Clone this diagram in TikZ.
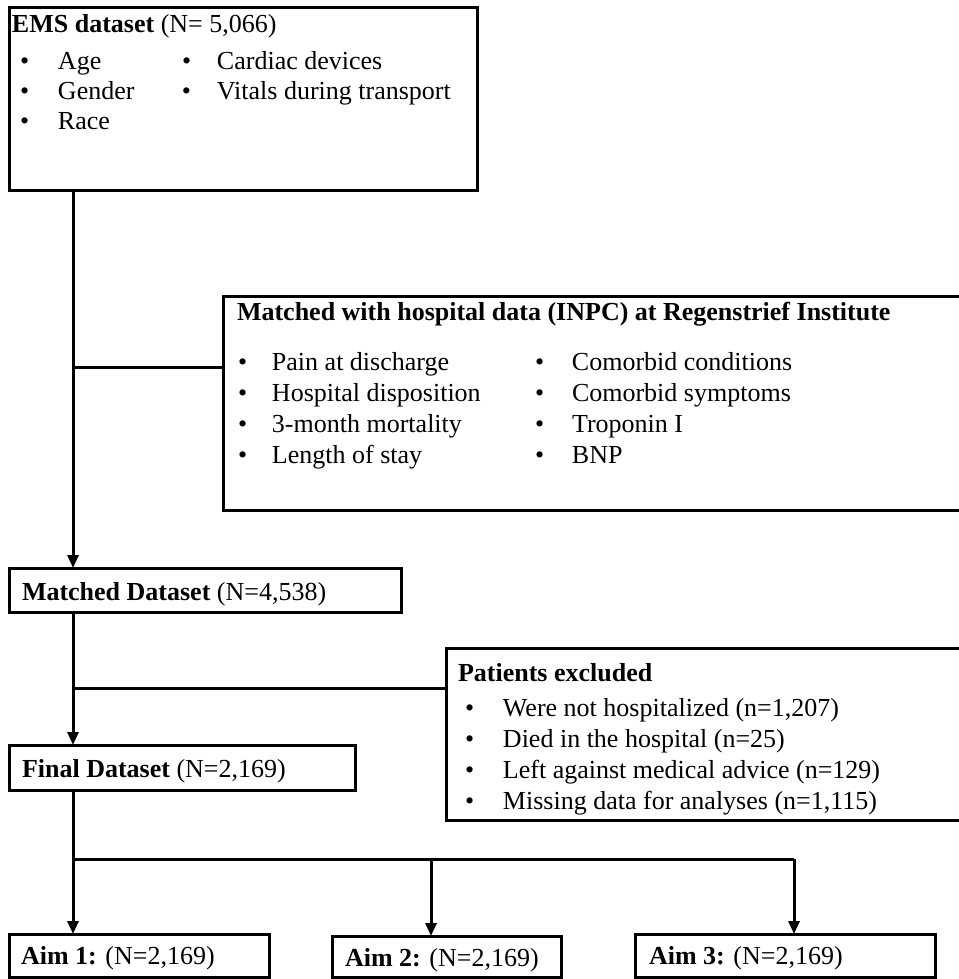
\documentclass[tikz,border=0pt]{standalone}
\usepackage{fontspec}
\setmainfont{Liberation Serif}
\usetikzlibrary{arrows.meta}
\setlength{\tabcolsep}{0pt}
\begin{document}
\begin{tikzpicture}[x=1pt,y=-1pt,
  box/.style={draw,line width=3pt,inner sep=0pt,outer sep=0pt,anchor=north west},
  txt/.style={anchor=base west,inner sep=0pt,outer sep=0pt,font=\fontsize{26}{30}\selectfont},
  conn/.style={line width=3pt},
  arr/.style={conn,-{Triangle[length=13pt,width=11pt]}}]
\useasboundingbox (0,0) rectangle (958,979);
% boxes
\node[box,minimum width=468pt,minimum height=182pt] (ems) at (9,8) {};
\node[box,minimum width=745pt,minimum height=214pt] (hosp) at (223,296) {};
\node[box,minimum width=392pt,minimum height=44pt] (matched) at (9,568) {};
\node[box,minimum width=520pt,minimum height=172pt] (excl) at (446,648) {};
\node[box,minimum width=346pt,minimum height=45pt] (final) at (9,745) {};
\node[box,minimum width=260pt,minimum height=43pt] (aim1) at (9,934) {};
\node[box,minimum width=229pt,minimum height=41pt] (aim2) at (332,936) {};
\node[box,minimum width=300pt,minimum height=43pt] (aim3) at (635,934) {};
% texts
\node[txt] (emsT) at (12,33) {\textbf{EMS dataset} (N= 5,066)};
\node[txt] (emsL) at (20,70) {\begin{tabular}[t]{@{}p{38pt}p{124pt}p{35pt}l@{}}
• & Age & • & Cardiac devices\\
• & Gender & • & Vitals during transport\\
• & Race & & \end{tabular}};
\node[txt] (hospT) at (237,320) {\textbf{Matched with hospital data (INPC) at Regenstrief Institute}};
\node[txt,font=\fontsize{26}{31}\selectfont] (hospL) at (238,370) {\begin{tabular}[t]{@{}p{34pt}p{263pt}p{37pt}l@{}}
• & Pain at discharge & • & Comorbid conditions\\
• & Hospital disposition & • & Comorbid symptoms\\
• & 3-month mortality & • & Troponin I\\
• & Length of stay & • & BNP\end{tabular}};
\node[txt] (matchedT) at (22,600) {\textbf{Matched Dataset} (N=4,538)};
\node[txt] (exclT) at (458,681) {\textbf{Patients excluded}};
\node[txt,font=\fontsize{26}{31}\selectfont] (exclL) at (465,716) {\begin{tabular}[t]{@{}p{38pt}l@{}}
• & Were not hospitalized (n=1,207)\\
• & Died in the hospital (n=25)\\
• & Left against medical advice (n=129)\\
• & Missing data for analyses (n=1,115)\end{tabular}};
\node[txt] (finalT) at (22,777) {\textbf{Final Dataset} (N=2,169)};
\node[txt] (aim1T) at (21,964) {\textbf{Aim 1:} (N=2,169)};
\node[txt] (aim2T) at (345,966) {\textbf{Aim 2:} (N=2,169)};
\node[txt] (aim3T) at (649,964) {\textbf{Aim 3:} (N=2,169)};
% connectors
\coordinate (xa) at (73,0);
\coordinate (xb) at (431,0);
\coordinate (xc) at (794,0);
\coordinate (yh) at (0,367);
\coordinate (ye) at (0,688);
\coordinate (yb) at (0,859);
\draw[arr] (ems.south -| xa) -- (matched.north -| xa);
\draw[conn] (xa |- yh) -- (hosp.west |- yh);
\draw[arr] (matched.south -| xa) -- (final.north -| xa);
\draw[conn] (xa |- ye) -- (excl.west |- ye);
\draw[arr] (final.south -| xa) -- (aim1.north -| xa);
\draw[conn] (xa |- yb) -- (xc |- yb);
\draw[arr] (xb |- yb) -- (aim2.north -| xb);
\draw[arr] (xc |- yb) -- (aim3.north -| xc);
\end{tikzpicture}
\end{document}
